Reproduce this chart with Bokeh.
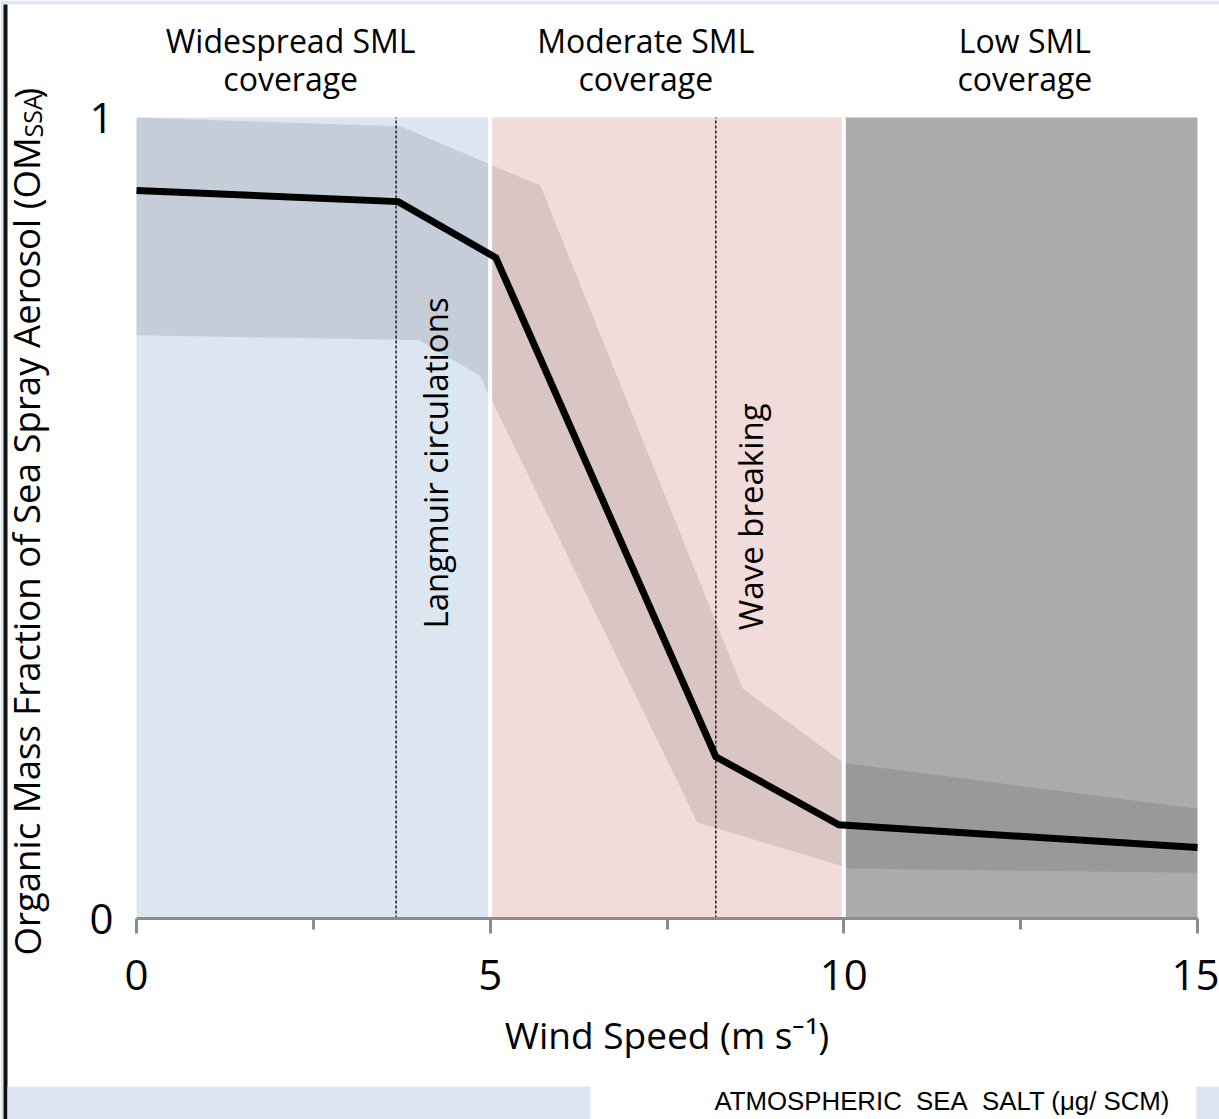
from bokeh.plotting import figure
from bokeh.models import FixedTicker, Label, BoxAnnotation, Range1d
from bokeh.core.properties import value
from bokeh.embed import file_html
from bokeh.resources import INLINE

FONT = "Open Sans"

# ---- data ----
region_left = [0, 5, 10]
region_right = [5, 10, 15]
region_colors = ["#dce6f1", "#f2dcdb", "#ababab"]
header_x = [2.18, 7.2, 12.56]
header_line1 = ["Widespread SML", "Moderate SML", "Low SML"]
header_line2 = ["coverage", "coverage", "coverage"]

wind = [0, 3.7, 5.08, 8.19, 9.93, 15]
om_fraction = [0.909, 0.895, 0.825, 0.202, 0.117, 0.0886]

band_upper_x = [0, 3.73, 5.71, 8.57, 10.0, 15]
band_upper = [1.0, 0.989, 0.915, 0.287, 0.194, 0.137]
band_lower_x = [0, 4.0, 4.85, 7.93, 10.1, 15]
band_lower = [0.728, 0.722, 0.678, 0.120, 0.062, 0.057]

process_x = [3.67, 8.19]
process_text_x = [4.23, 8.68]
process_text_y = [0.362, 0.36]
process_names = ["Langmuir circulations", "Wave breaking"]

x_ticks = [0, 5, 10, 15]
x_minor_ticks = [2.5, 7.5, 12.5]
y_ticks = [0, 1]

# ---- figure: frame covers the whole canvas, axes drawn at fixed locations ----
W, H = 1219, 1119
X0_PX, X15_PX = 136, 1197
Y0_PX, Y1_PX = 918, 117
sx = (X15_PX - X0_PX) / 15.0
sy = (Y0_PX - Y1_PX) / 1.0
x_range = Range1d(-X0_PX / sx, 15 + (W - X15_PX) / sx)
y_range = Range1d(-(H - Y0_PX) / sy, 1 + Y1_PX / sy)

p = figure(width=W, height=H, x_range=x_range, y_range=y_range,
           output_backend="svg", toolbar_location=None, min_border=0)
p.xgrid.visible = False
p.ygrid.visible = False
p.outline_line_color = None
p.background_fill_color = "white"
p.border_fill_color = "white"

# regions
p.quad(left=region_left, right=region_right, bottom=0, top=1, fill_color=region_colors, line_color=None)

# uncertainty band
band_xs = band_upper_x + band_lower_x[::-1]
band_ys = band_upper + band_lower[::-1]
p.patch(band_xs, band_ys, fill_color="black", fill_alpha=0.1, line_color=None)

# white separators between regions
p.segment(x0=region_right[:2], y0=0, x1=region_right[:2], y1=1, line_color="white", line_width=4)

# process dashed lines
p.segment(x0=process_x, y0=0, x1=process_x, y1=1, line_color="black", line_width=1.3, line_dash="3 2")

# main curve
p.line(wind, om_fraction, line_color="black", line_width=7, line_join="miter")

# process labels
p.text(x=process_text_x, y=process_text_y, text=process_names, angle=1.5708,
       text_align="left", text_baseline="alphabetic", text_font=value(FONT),
       text_font_size="33px", text_color="black")

# headers
hy1 = (Y0_PX - 40) / sy
hy2 = (Y0_PX - 78) / sy
p.text(x=header_x, y=[hy1] * 3, text=header_line1, text_align="center", text_baseline="alphabetic",
       text_font=value(FONT), text_font_size="32px", text_color="black")
p.text(x=header_x, y=[hy2] * 3, text=header_line2, text_align="center", text_baseline="alphabetic",
       text_font=value(FONT), text_font_size="32px", text_color="black")

# axes
xa = p.xaxis[0]
xa.fixed_location = 0
xa.bounds = (0, 15)
xa.ticker = FixedTicker(ticks=x_ticks, minor_ticks=x_minor_ticks)
xa.axis_line_color = "#8c8c8c"
xa.axis_line_width = 3
xa.major_tick_line_color = "#8c8c8c"
xa.major_tick_line_width = 3
xa.minor_tick_line_color = "#8c8c8c"
xa.minor_tick_line_width = 3
xa.major_tick_out = 15
xa.major_tick_in = 0
xa.minor_tick_out = 11
xa.minor_tick_in = 0
xa.major_label_text_font = FONT
xa.major_label_text_font_size = "42px"
xa.major_label_text_color = "black"
xa.major_label_standoff = 26
xa.axis_label = "Wind Speed (m s\u207b\u00b9)"
xa.axis_label_text_font = FONT
xa.axis_label_text_font_size = "37px"
xa.axis_label_text_font_style = "normal"
xa.axis_label_text_color = "black"
xa.axis_label_standoff = 16

ya = p.yaxis[0]
ya.fixed_location = 0
ya.bounds = (0, 1)
ya.ticker = FixedTicker(ticks=y_ticks)
ya.axis_line_color = None
ya.major_tick_line_color = None
ya.minor_tick_line_color = None
ya.major_label_text_font = FONT
ya.major_label_text_font_size = "42px"
ya.major_label_text_color = "black"
ya.major_label_standoff = 17

# y axis title with subscript (screen units: origin at bottom-left of canvas)
p.add_layout(Label(x=26, y=H - 955, x_units="screen", y_units="screen", angle=1.5708,
                   text="Organic Mass Fraction of Sea Spray Aerosol (OM", text_align="left",
                   text_baseline="alphabetic", text_font=FONT, text_font_size="36.6px", text_color="black"))
p.add_layout(Label(x=32, y=H - 137, x_units="screen", y_units="screen", angle=1.5708,
                   text="SSA", text_align="left", text_baseline="alphabetic",
                   text_font=FONT, text_font_size="25px", text_color="black"))
p.add_layout(Label(x=26, y=H - 98, x_units="screen", y_units="screen", angle=1.5708,
                   text=")", text_align="left", text_baseline="alphabetic",
                   text_font=FONT, text_font_size="36.6px", text_color="black"))

# page frame decorations
for l, r, b, t, c in [(0, W, H - 4, H, "#dce6f1"),
                      (0, 3, 0, H, "#dce6f1"),
                      (3, 7, 0, H - 4, "#111111"),
                      (7, 590, 0, 33, "#dce6f1"),
                      (1196, W, 0, 33, "#dce6f1")]:
    p.add_layout(BoxAnnotation(left=l, right=r, top=t, bottom=b, left_units="screen",
                               right_units="screen", top_units="screen", bottom_units="screen",
                               fill_color=c, fill_alpha=1, line_color=None, level="overlay"))

p.add_layout(Label(x=714, y=H - 1100, x_units="screen", y_units="screen",
                   text="ATMOSPHERIC\u00a0\u00a0SEA\u00a0\u00a0SALT (\u03bcg/\u00a0SCM)", text_align="left",
                   text_baseline="middle", text_font="Liberation Sans",
                   text_font_size="25.8px", text_color="black"))

open("out.html", "w").write(file_html(p, INLINE))
